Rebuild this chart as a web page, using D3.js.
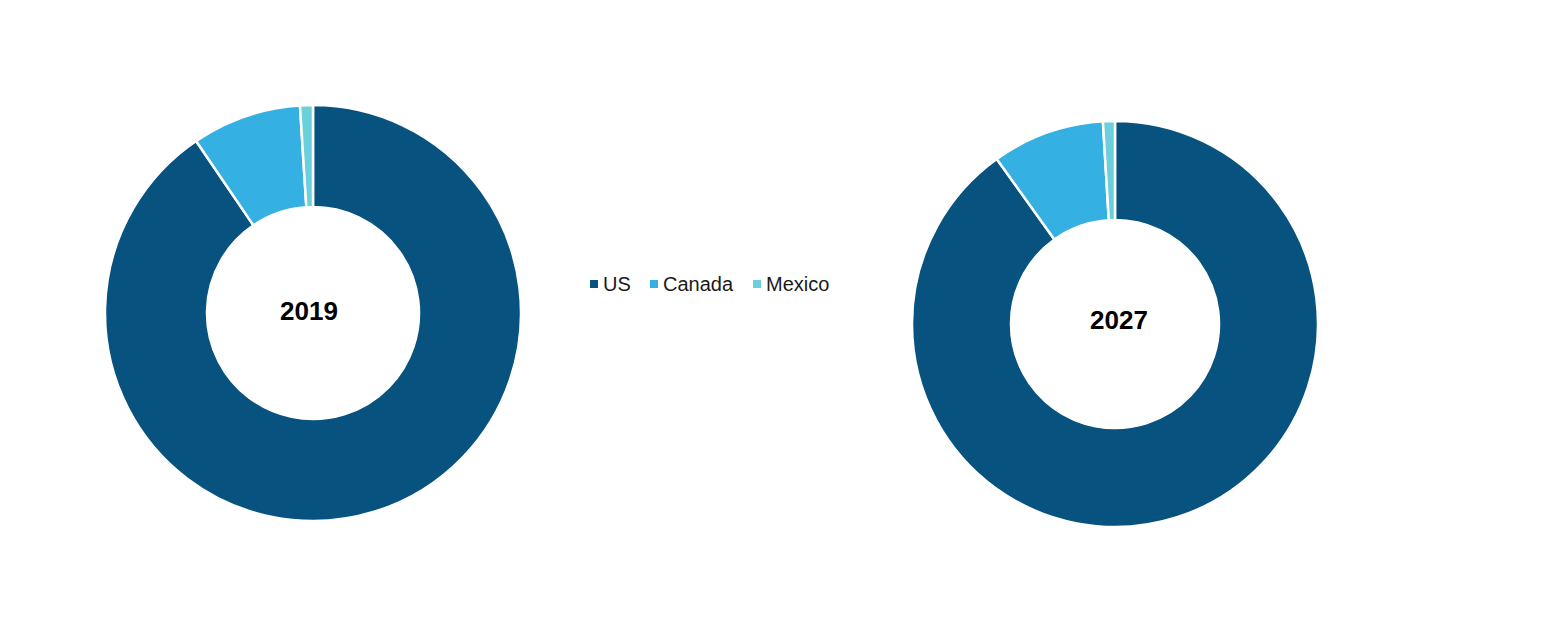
<!DOCTYPE html>
<html><head><meta charset="utf-8">
<script src="https://cdn.jsdelivr.net/npm/d3@7"></script>
<style>body{margin:0;background:#fff;} svg{display:block;}</style>
</head><body>
<svg id="c" width="1560" height="626"></svg>
<script>
const categories = ["US", "Canada", "Mexico"];
const colors = ["#08527f", "#35b0e3", "#6ccfdc"];
const years = ["2019", "2027"];
const values2019 = [90.5, 8.5, 1.0];
const values2027 = [90.1, 8.95, 0.95];

const svg = d3.select("#c");
const color = d3.scaleOrdinal().domain(categories).range(colors);
const pie = d3.pie().sort(null).value(d => d.v);

const donuts = [
  {year: years[0], vals: values2019, cx: 313, cy: 313, r: 208, ir: 106, lx: -4, ly: -2},
  {year: years[1], vals: values2027, cx: 1115, cy: 324, r: 203, ir: 104, lx: 4, ly: -4}
];

donuts.forEach(dn => {
  const g = svg.append("g").attr("transform", `translate(${dn.cx},${dn.cy})`);
  const arc = d3.arc().innerRadius(dn.ir).outerRadius(dn.r);
  const data = categories.map((c, i) => ({c, v: dn.vals[i]}));
  g.selectAll("path").data(pie(data)).join("path")
    .attr("d", arc)
    .attr("fill", d => color(d.data.c))
    .attr("stroke", "#fff")
    .attr("stroke-width", 2.5);
  g.append("text").attr("text-anchor", "middle").attr("dy", "0.35em")
    .attr("x", dn.lx).attr("y", dn.ly)
    .attr("font-family", "Liberation Sans, Arial, sans-serif")
    .attr("font-weight", "bold").attr("font-size", 26).attr("fill", "#000")
    .text(dn.year);
});

const legendX = [590, 650, 753];
const lg = svg.append("g");
categories.forEach((c, i) => {
  lg.append("rect").attr("x", legendX[i]).attr("y", 280).attr("width", 8).attr("height", 8).attr("fill", color(c));
  lg.append("text").attr("x", legendX[i] + 13).attr("y", 284).attr("dy", "0.35em")
    .attr("font-family", "Liberation Sans, Arial, sans-serif").attr("font-size", 20).attr("fill", "#1a1a1a")
    .text(c);
});
</script>
</body></html>
